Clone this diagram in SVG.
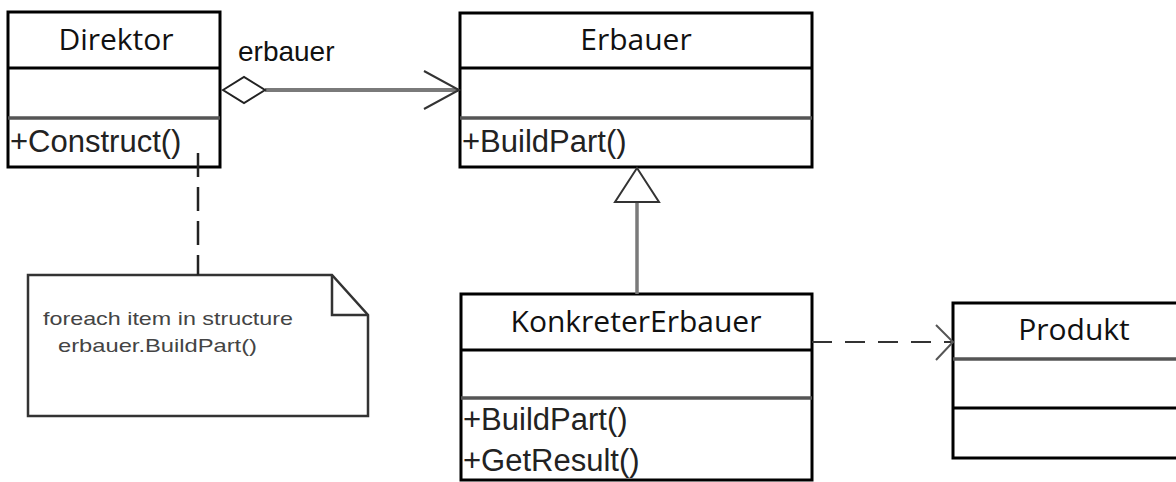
<svg xmlns="http://www.w3.org/2000/svg" width="1176" height="482" viewBox="0 0 1176 482">
<style>
.box{fill:#fff;stroke:#000;stroke-width:3}
.div1{stroke:#000;stroke-width:3}
.div2{stroke:#555;stroke-width:3.5}
.title{font-family:"Open Sans","Noto Sans",sans-serif;font-size:30px;fill:#111;text-anchor:middle}
.mem{font-family:"Liberation Sans",Arial,sans-serif;font-size:31px;fill:#222}
.lbl{font-family:"Liberation Sans",Arial,sans-serif;font-size:28px;fill:#111}
.note{font-family:"Liberation Sans",Arial,sans-serif;font-size:19px;fill:#444}
.conn{fill:none;stroke:#7a7a7a}
</style>
<rect width="1176" height="482" fill="#fff"/>
<g id="direktor">
<rect class="box" x="8" y="12" width="212" height="155"/>
<line class="div1" x1="8" y1="68" x2="220" y2="68"/>
<line class="div2" x1="8" y1="118" x2="220" y2="118"/>
<text class="title" x="116" y="50">Direktor</text>
<text class="mem" x="10" y="152">+Construct()</text>
</g>
<g id="erbauer">
<rect class="box" x="460" y="13" width="352" height="154"/>
<line class="div1" x1="460" y1="68" x2="812" y2="68"/>
<line class="div2" x1="460" y1="118" x2="812" y2="118"/>
<text class="title" x="636" y="50">Erbauer</text>
<text class="mem" x="462" y="152">+BuildPart()</text>
</g>
<g id="konkreterErbauer">
<rect class="box" x="461" y="294" width="351" height="186"/>
<line class="div1" x1="461" y1="350" x2="812" y2="350"/>
<line class="div2" x1="461" y1="398" x2="812" y2="398"/>
<text class="title" x="636" y="332">KonkreterErbauer</text>
<text class="mem" x="463" y="430">+BuildPart()</text>
<text class="mem" x="463" y="471">+GetResult()</text>
</g>
<g id="produkt">
<rect class="box" x="953" y="303" width="250" height="155"/>
<line class="div2" x1="953" y1="359" x2="1203" y2="359"/>
<line class="div1" x1="953" y1="408" x2="1203" y2="408"/>
<text class="title" x="1074" y="340">Produkt</text>
</g>
<g id="note">
<path d="M28,275 H332 L368,315 V416 H28 Z" fill="#fff" stroke="#333" stroke-width="2.5"/>
<path d="M332,275 V315 H368" fill="none" stroke="#333" stroke-width="2.5"/>
<text class="note" x="43" y="325" textLength="250" lengthAdjust="spacingAndGlyphs">foreach item in structure</text>
<text class="note" x="58" y="352" textLength="199" lengthAdjust="spacingAndGlyphs">erbauer.BuildPart()</text>
</g>
<g id="connectors">
<line class="conn" x1="265" y1="90" x2="458" y2="90" stroke-width="4"/>
<path d="M223,90 L244,77 L265,90 L244,103 Z" fill="#fff" stroke="#222" stroke-width="2"/>
<path d="M424,71 L459,90 L424,109" fill="none" stroke="#333" stroke-width="2"/>
<text class="lbl" x="238" y="61">erbauer</text>
<line class="conn" x1="637" y1="202" x2="637" y2="294" stroke-width="3.5" stroke="#8a8a98"/>
<path d="M637,168 L659,202 L615,202 Z" fill="#fff" stroke="#333" stroke-width="2"/>
<line x1="198" y1="153" x2="198" y2="275" stroke="#222" stroke-width="2.5" stroke-dasharray="24,10"/>
<line x1="812" y1="342" x2="951" y2="342" stroke="#333" stroke-width="2" stroke-dasharray="20,13"/>
<path d="M936,325 L953,342 L936,360" fill="none" stroke="#555" stroke-width="2"/>
</g>
</svg>
